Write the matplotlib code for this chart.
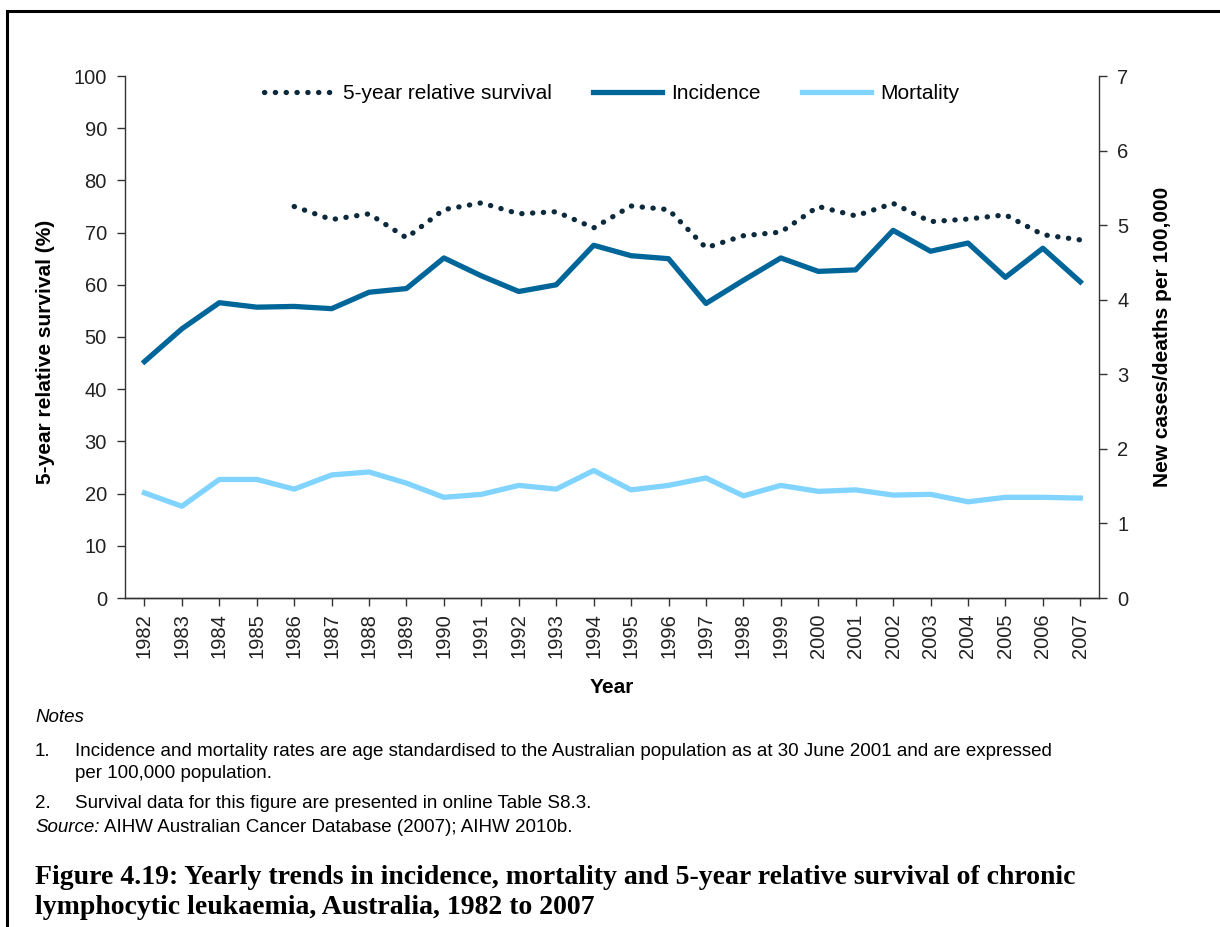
import matplotlib
matplotlib.use('Agg')
import matplotlib.pyplot as plt
from matplotlib.patches import Rectangle

years = list(range(1982, 2008))
survival_years = list(range(1986, 2008))
survival = [75.0, 72.5, 73.6, 69.0, 74.4, 75.7, 73.6, 74.0, 70.9, 75.1, 74.4,
            67.1, 69.4, 70.1, 75.0, 73.2, 75.6, 72.1, 72.6, 73.4, 69.6, 68.6]
incidence = [3.17, 3.61, 3.96, 3.90, 3.91, 3.88, 4.10, 4.15, 4.56, 4.32, 4.11,
             4.20, 4.73, 4.59, 4.55, 3.95, 4.26, 4.56, 4.38, 4.40, 4.93, 4.65,
             4.76, 4.30, 4.69, 4.24]
mortality = [1.41, 1.23, 1.59, 1.59, 1.46, 1.65, 1.69, 1.54, 1.35, 1.39, 1.51,
             1.46, 1.71, 1.45, 1.51, 1.61, 1.37, 1.51, 1.43, 1.45, 1.38, 1.39,
             1.29, 1.35, 1.35, 1.34]

plt.rcParams['font.family'] = ['Liberation Sans', 'DejaVu Sans']
W, H = 1220, 927
fig = plt.figure(figsize=(W / 100, H / 100), dpi=100)

# page frame (left and top edges visible)
fig.patches.append(Rectangle((7 / W, -0.1), 1.2, 1 - 11 / H + 0.1,
                             transform=fig.transFigure, fill=False,
                             edgecolor='black', linewidth=2.2))

ax1 = fig.add_axes([125 / W, 1 - 598 / H, (1099 - 125) / W, (598 - 76) / H])
ax2 = ax1.twinx()

tick_col = '#333333'
sv_line, = ax1.plot(survival_years, survival, color='#0d2a3c', linewidth=3.8,
                    linestyle=(0, (0.05, 2.0)), dash_capstyle='round',
                    label='5-year relative survival', zorder=3)
inc_line, = ax2.plot(years, incidence, color='#006699', linewidth=3.8,
                     label='Incidence', solid_joinstyle='round')
mort_line, = ax2.plot(years, mortality, color='#80d4ff', linewidth=3.8,
                      label='Mortality', solid_joinstyle='round')

ax1.set_xlim(1981.48, 2007.5)
ax1.set_ylim(0, 100)
ax2.set_ylim(0, 7)
ax1.set_yticks(range(0, 101, 10))
ax2.set_yticks(range(0, 8))
ax1.set_xticks(years)
ax1.set_xticklabels([str(y) for y in years], rotation=90)

for a in (ax1, ax2):
    a.spines['top'].set_visible(False)
    for s in a.spines.values():
        s.set_color(tick_col)
        s.set_linewidth(1.0)
    a.tick_params(direction='out', length=6, width=1.0, color=tick_col,
                  labelsize=14.5, labelcolor='#222222', pad=7)
ax1.spines['right'].set_visible(False)
ax2.spines['left'].set_visible(False)
ax1.tick_params(axis='x', pad=5)

ax1.set_xlabel('Year', fontsize=15, fontweight='bold', labelpad=14)
ax1.set_ylabel('5-year relative survival (%)', fontsize=15, fontweight='bold')
ax1.yaxis.set_label_coords(-0.072, 0.471)
ax2.set_ylabel('New cases/deaths per 100,000', fontsize=15, fontweight='bold', labelpad=18)

ax1.legend(handles=[sv_line, inc_line, mort_line], loc='upper center',
           bbox_to_anchor=(0.5, 1.02), ncol=3, frameon=False, fontsize=15,
           handlelength=3.3, columnspacing=2.0, handletextpad=0.45)

# notes
def px(x, y):
    return x / W, 1 - y / H

fs = 13.5
fig.text(*px(35, 718), 'Notes', fontsize=fs, style='italic', va='center')
fig.text(*px(35, 751), '1.', fontsize=fs, va='center')
fig.text(*px(75, 751), 'Incidence and mortality rates are age standardised to the Australian '
         'population as at 30 June 2001 and are expressed', fontsize=fs, va='center')
fig.text(*px(75, 773), 'per 100,000 population.', fontsize=fs, va='center')
fig.text(*px(35, 803), '2.', fontsize=fs, va='center')
fig.text(*px(75, 803), 'Survival data for this figure are presented in online Table S8.3.',
         fontsize=fs, va='center')
src = fig.text(*px(35, 827), 'Source:', fontsize=fs, style='italic', va='center')
fig.canvas.draw()
bb = src.get_window_extent()
fig.text(bb.x1 / W + 4 / W, 1 - 827 / H, 'AIHW Australian Cancer Database (2007); AIHW 2010b.',
         fontsize=fs, va='center')

fig.text(*px(35, 877), 'Figure 4.19: Yearly trends in incidence, mortality and 5-year '
         'relative survival of chronic', fontsize=20, fontweight='bold',
         family=['Liberation Serif'], va='center')
fig.text(*px(35, 908), 'lymphocytic leukaemia, Australia, 1982 to 2007', fontsize=20,
         fontweight='bold', family=['Liberation Serif'], va='center')

fig.savefig('out.png', dpi=100)
